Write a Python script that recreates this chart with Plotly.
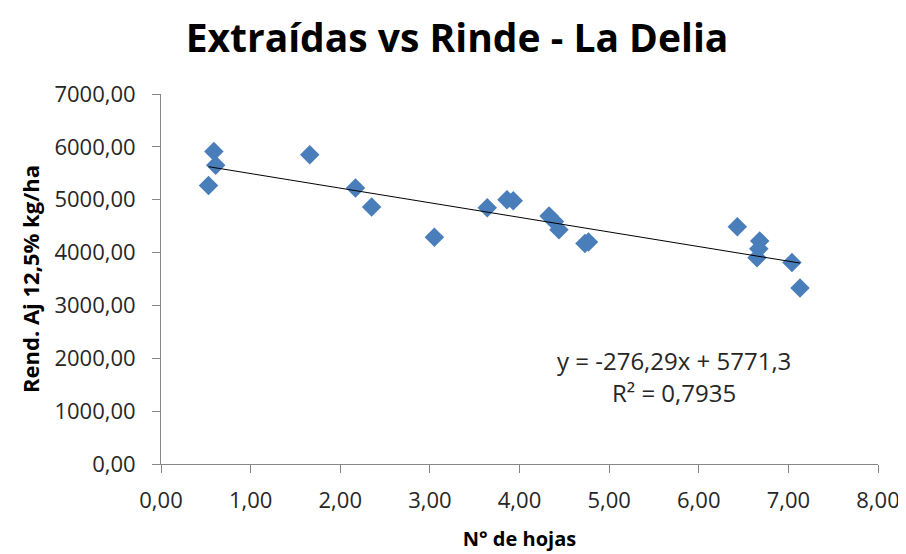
import plotly.graph_objects as go

# Nº de hojas extraídas vs rendimiento ajustado (La Delia)
hojas = [0.53, 0.59, 0.61, 1.66, 2.17, 2.35, 3.05, 3.64, 3.86, 3.93,
         4.33, 4.39, 4.44, 4.73, 4.77, 6.43, 6.65, 6.67, 6.68, 7.04, 7.13]
rinde = [5270, 5910, 5650, 5850, 5220, 4860, 4290, 4850, 5000, 4980,
         4690, 4590, 4430, 4170, 4200, 4490, 3900, 4070, 4220, 3810, 3330]

# linear trendline as reported on the chart
pendiente = -276.29
ordenada = 5771.3
r2 = 0.7935

x_tend = [min(hojas), max(hojas)]
y_tend = [pendiente * x + ordenada for x in x_tend]

FONT = 'Open Sans, sans-serif'

fig = go.Figure()

fig.add_trace(go.Scatter(
    x=hojas, y=rinde,
    mode='markers',
    marker=dict(symbol='diamond', size=15, color='#4A7EBB'),
    hoverinfo='x+y',
))

fig.add_trace(go.Scatter(
    x=x_tend, y=y_tend,
    mode='lines',
    line=dict(color='black', width=1),
    hoverinfo='skip',
))

axis_style = dict(
    showgrid=False,
    zeroline=False,
    showline=True,
    linecolor='#868686',
    linewidth=1,
    ticks='outside',
    ticklen=8,
    tickcolor='#868686',
    tickformat='.2f',
    ticklabeloverflow='allow',
    tickfont=dict(family=FONT, size=22, color='#262626'),
)

fig.update_xaxes(range=[0, 8], dtick=1, ticklabelstandoff=9, **axis_style,
                 title=dict(text='<b>N° de hojas</b>', standoff=18,
                            font=dict(family=FONT, size=20, color='black')))
fig.update_yaxes(range=[0, 7000], dtick=1000, ticklabelstandoff=12, **axis_style,
                 title=dict(text='<b>Rend. Aj 12,5% kg/ha</b>', standoff=8,
                            font=dict(family=FONT, size=22, color='black')))

fig.add_annotation(
    x=0.716, y=0.281, xref='paper', yref='paper',
    xanchor='center', yanchor='middle',
    text=f"y = {str(pendiente).replace('.', ',')}x + {str(ordenada).replace('.', ',')}",
    showarrow=False,
    font=dict(family=FONT, size=24, color='#262626'),
)
fig.add_annotation(
    x=0.716, y=0.192, xref='paper', yref='paper',
    xanchor='center', yanchor='middle',
    text=f"R² = {str(r2).replace('.', ',')}",
    showarrow=False,
    font=dict(family=FONT, size=24, color='#262626'),
)

fig.update_layout(
    width=898, height=546,
    separators=',.',
    showlegend=False,
    plot_bgcolor='white',
    paper_bgcolor='white',
    margin=dict(l=153, r=28, t=86, b=90, autoexpand=False),
    title=dict(text='<b>Extraídas vs Rinde - La Delia</b>',
               x=0.5, xanchor='center', y=0.945, yanchor='middle',
               font=dict(family=FONT, size=39, color='black')),
)

fig.write_html("out.html")
